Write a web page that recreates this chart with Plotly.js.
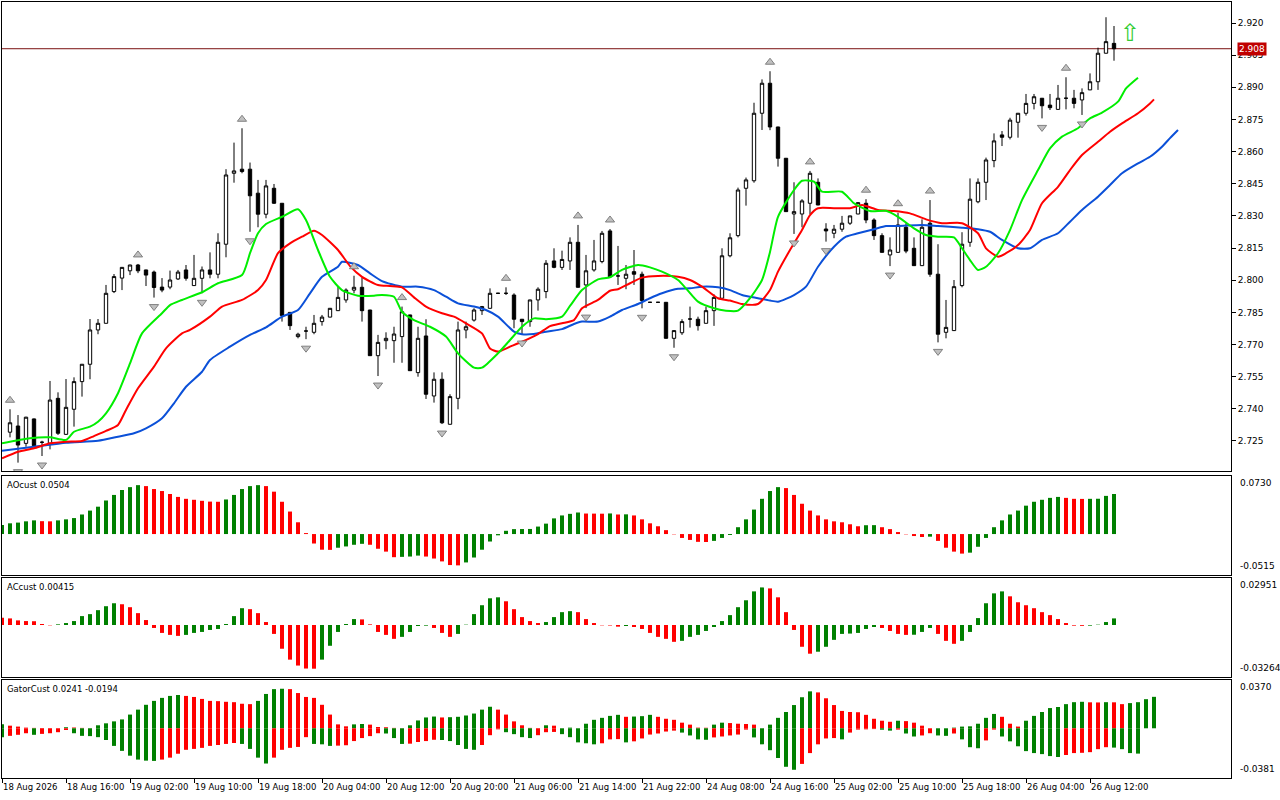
<!DOCTYPE html>
<html><head><meta charset="utf-8">
<script src="https://cdn.plot.ly/plotly-3.0.1.min.js"></script>
<style>html,body{margin:0;padding:0;background:#fff}#chart{width:1280px;height:800px}</style>
</head><body><div id="chart"></div>
<script>
// ---------- candles (H1 bars, index 0..138) ----------
const candleOpen = [2.7291,2.7320,2.7239,2.7353,2.7244,2.7239,2.7449,2.7281,2.7398,2.7527,2.7608,2.7768,2.7799,2.7947,2.8010,2.8044,2.8071,2.8048,2.8038,2.7968,
2.7968,2.8006,2.8048,2.7975,2.8009,2.8048,2.8028,2.8168,2.8499,2.8518,2.8518,2.8406,2.8308,2.8429,2.8359,2.7850,2.7737,2.7763,2.7757,2.7807,
2.7828,2.7858,2.7908,2.7954,2.7967,2.7861,2.7648,2.7718,2.7718,2.7737,2.7838,2.7569,2.7740,2.7460,2.7538,2.7328,2.7449,2.7768,2.7814,2.7858,
2.7869,2.7939,2.7939,2.7931,2.7818,2.7807,2.7908,2.7947,2.8090,2.8060,2.8090,2.8177,2.7978,2.8048,2.8087,2.8230,2.8020,2.8009,2.8040,2.8028,
2.7897,2.7897,2.7897,2.7729,2.7755,2.7819,2.7818,2.7799,2.7858,2.7916,2.8114,2.8208,2.8429,2.8464,2.8779,2.8919,2.8715,2.8569,2.8309,2.8309,
2.8359,2.8457,2.8239,2.8219,2.8238,2.8266,2.8309,2.8359,2.8281,2.8208,2.8118,2.8130,2.8247,2.8149,2.8068,2.8266,2.8028,2.7757,2.7765,2.7975,
2.8177,2.8366,2.8457,2.8558,2.8678,2.8667,2.8737,2.8779,2.8825,2.8849,2.8817,2.8797,2.8849,2.8849,2.8841,2.8888,2.8926,2.9059,2.9105];
const candleHigh = [2.7398,2.7371,2.7363,2.7355,2.7251,2.7530,2.7477,2.7539,2.7547,2.7609,2.7819,2.7819,2.7978,2.8029,2.8061,2.8072,2.8076,2.8049,2.8045,2.8010,
2.8045,2.8048,2.8071,2.8118,2.8064,2.8130,2.8219,2.8518,2.8642,2.8709,2.8549,2.8468,2.8468,2.8449,2.8359,2.7850,2.7755,2.7783,2.7838,2.7838,
2.7870,2.7973,2.7962,2.8021,2.8013,2.7862,2.7745,2.7757,2.7783,2.7877,2.7839,2.7783,2.7818,2.7570,2.7570,2.7468,2.7807,2.7807,2.7869,2.7880,
2.7962,2.7941,2.7967,2.7939,2.7819,2.7909,2.7967,2.8094,2.8149,2.8138,2.8200,2.8258,2.8118,2.8188,2.8230,2.8239,2.8160,2.8071,2.8141,2.8040,
2.7898,2.7898,2.7898,2.7766,2.7818,2.7877,2.7830,2.7877,2.7934,2.8149,2.8219,2.8432,2.8479,2.8828,2.8937,2.8975,2.8716,2.8570,2.8457,2.8378,
2.8510,2.8475,2.8266,2.8258,2.8300,2.8301,2.8363,2.8378,2.8289,2.8219,2.8200,2.8315,2.8266,2.8200,2.8284,2.8374,2.8168,2.7908,2.8001,2.8224,
2.8475,2.8475,2.8572,2.8685,2.8696,2.8758,2.8780,2.8869,2.8869,2.8850,2.8869,2.8911,2.8947,2.8888,2.8895,2.8965,2.9085,2.9227,2.9186];
const candleLow = [2.7267,2.7149,2.7223,2.7223,2.7180,2.7211,2.7278,2.7278,2.7317,2.7457,2.7538,2.7748,2.7799,2.7940,2.7954,2.8024,2.8033,2.7973,2.7919,2.7944,
2.7958,2.8001,2.7998,2.7975,2.7939,2.8009,2.8009,2.8107,2.8455,2.8499,2.8226,2.8247,2.8289,2.8356,2.7807,2.7768,2.7729,2.7725,2.7748,2.7788,
2.7827,2.7857,2.7895,2.7939,2.7807,2.7647,2.7553,2.7678,2.7615,2.7615,2.7577,2.7550,2.7446,2.7429,2.7329,2.7327,2.7398,2.7729,2.7807,2.7838,
2.7868,2.7937,2.7931,2.7776,2.7749,2.7783,2.7858,2.7916,2.8056,2.8048,2.8048,2.7966,2.7870,2.8040,2.8079,2.8015,2.7978,2.7958,2.7978,2.7869,
2.7896,2.7896,2.7728,2.7685,2.7745,2.7779,2.7765,2.7799,2.7787,2.7915,2.8107,2.8200,2.8348,2.8455,2.8701,2.8700,2.8530,2.8320,2.8216,2.8247,
2.8309,2.8350,2.8180,2.8196,2.8226,2.8258,2.8308,2.8266,2.8188,2.8130,2.8066,2.8130,2.8126,2.8068,2.8067,2.8016,2.7710,2.7729,2.7764,2.7967,
2.8156,2.8359,2.8374,2.8527,2.8626,2.8657,2.8665,2.8768,2.8797,2.8755,2.8794,2.8796,2.8797,2.8802,2.8771,2.8887,2.8888,2.9058,2.9024];
const candleClose = [2.7335,2.7231,2.7361,2.7228,2.7244,2.7441,2.7286,2.7407,2.7527,2.7608,2.7768,2.7799,2.7939,2.8017,2.8060,2.8071,2.8044,2.8024,2.7966,2.7954,
2.8001,2.8038,2.8009,2.8009,2.8048,2.8028,2.8177,2.8491,2.8510,2.8507,2.8394,2.8308,2.8440,2.8359,2.7835,2.7788,2.7748,2.7763,2.7799,2.7828,
2.7869,2.7920,2.7954,2.7967,2.7858,2.7648,2.7710,2.7729,2.7749,2.7853,2.7578,2.7729,2.7468,2.7538,2.7335,2.7457,2.7768,2.7783,2.7861,2.7877,
2.7939,2.7939,2.7939,2.7818,2.7807,2.7908,2.7958,2.8079,2.8060,2.8097,2.8177,2.7967,2.8044,2.8090,2.8219,2.8016,2.8020,2.8028,2.8028,2.7905,
2.7897,2.7897,2.7729,2.7765,2.7807,2.7819,2.7788,2.7858,2.7920,2.8114,2.8198,2.8421,2.8468,2.8779,2.8919,2.8715,2.8569,2.8320,2.8320,2.8370,
2.8499,2.8351,2.8230,2.8238,2.8266,2.8300,2.8362,2.8281,2.8208,2.8130,2.8141,2.8258,2.8136,2.8068,2.8247,2.8028,2.7748,2.7780,2.7970,2.8168,
2.8378,2.8457,2.8561,2.8650,2.8667,2.8747,2.8779,2.8825,2.8856,2.8814,2.8805,2.8849,2.8849,2.8825,2.8875,2.8926,2.9059,2.9113,2.9080];

// ---------- time axis labels ----------
const timeTickIdx = [-1,7,15,23,31,39,47,55,63,71,79,87,95,103,111,119,127,135];
const timeTickText = ["18 Aug 2026","18 Aug 16:00","19 Aug 02:00","19 Aug 10:00","19 Aug 18:00","20 Aug 04:00","20 Aug 12:00","20 Aug 20:00","21 Aug 06:00","21 Aug 14:00","21 Aug 22:00","24 Aug 08:00","24 Aug 16:00","25 Aug 02:00","25 Aug 10:00","25 Aug 18:00","26 Aug 04:00","26 Aug 12:00"];
const priceTicks = [2.920,2.905,2.890,2.875,2.860,2.845,2.830,2.815,2.800,2.785,2.770,2.755,2.740,2.725];

// ---------- Alligator lines (read samples: bar index, price) ----------
const lipsIdx = [-1,2.5,5,7,8,10,11,12,13.5,15,16.5,19,20,21.5,24,26,29,30,31,32,34,36,37,38.5,40,41.5,43.5,45.5,46.5,48,49,50.5,52.5,54.5,56,58,59,61,62.5,64,65.5,67,69,70,71.5,73.5,75,76.5,78.5,80,81.5,83.5,84.5,86,88,89.5,91,92.5,94,95,96,98,99,100.5,101.5,104,105.5,107.5,109.5,111,113,114.5,116,118,119,120,121,122,123.5,125,126.5,128.5,130,131.5,133.5,135,136.5,138.5,139.5,141];
const lipsVal = [2.7239,2.7263,2.7267,2.7255,2.7293,2.7317,2.7340,2.7379,2.7473,2.7612,2.7752,2.7846,2.7884,2.7908,2.7944,2.7986,2.8024,2.8126,2.8219,2.8262,2.8296,2.8331,2.8281,2.8141,2.8016,2.7954,2.7928,2.7928,2.7931,2.7923,2.7853,2.7814,2.7783,2.7737,2.7659,2.7592,2.7592,2.7659,2.7721,2.7783,2.7822,2.7818,2.7830,2.7880,2.7954,2.8004,2.8014,2.8048,2.8071,2.8060,2.8040,2.8001,2.7962,2.7900,2.7869,2.7858,2.7858,2.7916,2.8001,2.8132,2.8296,2.8421,2.8464,2.8460,2.8413,2.8413,2.8359,2.8323,2.8324,2.8296,2.8242,2.8211,2.8203,2.8200,2.8149,2.8094,2.8048,2.8063,2.8126,2.8234,2.8374,2.8514,2.8615,2.8670,2.8709,2.8755,2.8782,2.8833,2.8895,2.8945];
const teethIdx = [-1,1,3,5,7,9,10.5,12,13.5,14.5,16,18,19.5,21.5,22.5,25,26.5,29,31,32,33.5,35,36.5,38,39,41,42.5,44,46,47.5,49,50.5,52,54,55.5,57,59,60,61,62.5,64,66,67.5,69,70.5,71.5,73.5,75,76,77.5,79,81,83.5,85,86.5,88.5,90,91.5,93.5,95,96,97.5,99,100,101,103,105,106.5,108.5,110.5,112.5,114.5,116.5,119,121,122,123.5,124.5,126,127.5,129,131,132.5,134,136,137.5,139,141,142.5,143];
const teethVal = [2.7169,2.7200,2.7216,2.7239,2.7247,2.7250,2.7273,2.7297,2.7325,2.7395,2.7496,2.7597,2.7682,2.7752,2.7768,2.7830,2.7877,2.7908,2.7954,2.8001,2.8126,2.8172,2.8203,2.8231,2.8211,2.8141,2.8066,2.8016,2.7978,2.7973,2.7967,2.7920,2.7877,2.7846,2.7830,2.7799,2.7752,2.7682,2.7667,2.7690,2.7713,2.7749,2.7786,2.7799,2.7814,2.7869,2.7908,2.7951,2.7958,2.7986,2.8012,2.8020,2.8016,2.8001,2.7970,2.7916,2.7905,2.7889,2.7889,2.7954,2.8040,2.8141,2.8234,2.8304,2.8336,2.8336,2.8336,2.8351,2.8328,2.8323,2.8312,2.8284,2.8266,2.8266,2.8219,2.8149,2.8110,2.8126,2.8164,2.8234,2.8359,2.8436,2.8514,2.8584,2.8646,2.8693,2.8732,2.8779,2.8825,2.8844];
const jawIdx = [-1,3,7,11,13.5,15.5,17,19,20.5,22,24,25,27.5,30,32,34,36,37.5,39,41,41.5,43.5,45,46.5,49,51,53,54.5,56,58,59.5,61,63,64,65.5,67,69,70.5,71.5,73.5,75,76.5,78.5,80,81.5,83.5,85,86.5,88.5,90,91.5,93.5,95,96,98,99.5,101,103,104.5,106,108,109.5,111,114,116,119,121,122.5,124,126,127.5,129,131,132.5,134,136,137.5,139,141,142.5,144,145,146];
const jawVal = [2.7205,2.7223,2.7242,2.7251,2.7270,2.7286,2.7309,2.7356,2.7426,2.7503,2.7573,2.7628,2.7690,2.7745,2.7780,2.7830,2.7861,2.7939,2.8016,2.8063,2.8086,2.8071,2.8032,2.7996,2.7970,2.7970,2.7954,2.7923,2.7892,2.7877,2.7861,2.7830,2.7760,2.7748,2.7749,2.7760,2.7772,2.7796,2.7807,2.7807,2.7830,2.7861,2.7889,2.7916,2.7939,2.7960,2.7962,2.7970,2.7967,2.7954,2.7931,2.7916,2.7905,2.7900,2.7931,2.7970,2.8063,2.8156,2.8203,2.8219,2.8238,2.8253,2.8253,2.8258,2.8253,2.8245,2.8238,2.8226,2.8188,2.8149,2.8149,2.8188,2.8219,2.8273,2.8328,2.8390,2.8444,2.8499,2.8545,2.8576,2.8623,2.8663,2.8701];

// ---------- fractals & signal ----------
const fractalUpIdx = [0,16,29,43,49,62,71,75,95,100,107,111,115,132];
const fractalDownIdx = [1,4,18,24,30,37,46,54,64,72,79,83,98,102,110,116,129,134];
const signalIdx = [140];
const signalPrice = [2.9153];

// ---------- AO (bars from index -1) ----------
const aoValues = [0.0115,0.0135,0.0144,0.0160,0.0172,0.0162,0.0160,0.0172,0.0185,0.0201,0.0246,0.0295,0.0344,0.0422,0.0492,0.0554,0.0590,0.0615,0.0603,0.0566,
0.0541,0.0504,0.0467,0.0443,0.0431,0.0418,0.0408,0.0406,0.0435,0.0492,0.0566,0.0603,0.0615,0.0603,0.0533,0.0406,0.0283,0.0148,0.0012,-0.0119,
-0.0197,-0.0199,-0.0172,-0.0156,-0.0135,-0.0123,-0.0135,-0.0185,-0.0221,-0.0291,-0.0287,-0.0283,-0.0271,-0.0283,-0.0308,-0.0344,-0.0390,-0.0394,-0.0357,-0.0295,
-0.0197,-0.0094,-0.0016,0.0041,0.0062,0.0063,0.0064,0.0094,0.0131,0.0197,0.0234,0.0254,0.0271,0.0258,0.0257,0.0256,0.0259,0.0246,0.0248,0.0234,
0.0185,0.0135,0.0098,0.0049,-0.0004,-0.0049,-0.0074,-0.0098,-0.0100,-0.0086,-0.0049,-0.0012,0.0086,0.0185,0.0308,0.0443,0.0541,0.0590,0.0578,0.0492,
0.0381,0.0295,0.0234,0.0185,0.0160,0.0148,0.0123,0.0098,0.0111,0.0112,0.0086,0.0062,0.0025,-0.0004,-0.0025,-0.0037,-0.0033,-0.0086,-0.0172,-0.0221,
-0.0246,-0.0234,-0.0160,-0.0049,0.0086,0.0172,0.0246,0.0295,0.0357,0.0406,0.0431,0.0455,0.0467,0.0455,0.0443,0.0442,0.0443,0.0444,0.0480,0.0504];
const aoScale = [0.0730, -0.0515];

// ---------- AC (bars from index -1) ----------
const acValues = [0.00455,0.00414,0.00290,0.00248,0.00238,0.00062,-0.00021,0.00041,0.00124,0.00248,0.00559,0.00683,0.00932,0.01180,0.01366,0.01304,0.01118,0.00745,0.00311,-0.00186,
-0.00497,-0.00621,-0.00683,-0.00621,-0.00497,-0.00435,-0.00311,-0.00248,0.00062,0.00559,0.01056,0.00994,0.00745,0.00186,-0.00559,-0.01490,-0.02174,-0.02546,-0.02732,-0.02743,
-0.02174,-0.01304,-0.00435,0.00062,0.00373,0.00352,0.00041,-0.00435,-0.00621,-0.00869,-0.00745,-0.00435,-0.00062,-0.00041,-0.00186,-0.00497,-0.00745,-0.00559,0.00021,0.00683,
0.01242,0.01677,0.01739,0.01490,0.00994,0.00497,0.00248,0.00124,0.00186,0.00497,0.00807,0.00869,0.00807,0.00373,0.00124,-0.00021,-0.00031,-0.00104,-0.00062,-0.00124,
-0.00248,-0.00497,-0.00745,-0.00869,-0.01056,-0.00994,-0.00745,-0.00621,-0.00373,-0.00124,0.00248,0.00621,0.01118,0.01553,0.02111,0.02360,0.02298,0.01739,0.00807,-0.00311,
-0.01366,-0.01801,-0.01677,-0.01366,-0.00932,-0.00559,-0.00538,-0.00497,-0.00248,-0.00124,-0.00186,-0.00373,-0.00559,-0.00621,-0.00611,-0.00435,-0.00186,-0.00559,-0.00994,-0.01180,
-0.00994,-0.00435,0.00435,0.01366,0.01987,0.02111,0.01801,0.01428,0.01242,0.01056,0.00807,0.00621,0.00373,0.00124,-0.00041,-0.00052,-0.00041,0.00021,0.00186,0.00415];
const acScale = [0.02951, -0.03264];

// ---------- Gator (bars from index -1) ----------
const gatorUpper = [0.0030,0.0020,0.0013,0.0005,0.0003,0.0002,0.0001,0.00005,0.0008,0.0006,0.0003,0.0001,0.0023,0.0038,0.0053,0.0068,0.0105,0.0143,0.0180,0.0210,
0.0233,0.0248,0.0255,0.0248,0.0240,0.0225,0.0210,0.0208,0.0203,0.0200,0.0188,0.0185,0.0210,0.0263,0.0300,0.0303,0.0300,0.0270,0.0240,0.0233,
0.0180,0.0105,0.0030,0.0015,0.0030,0.0033,0.0028,0.0010,0.0008,0.0003,0.0001,0.0023,0.0060,0.0083,0.0090,0.0083,0.0085,0.0088,0.0098,0.0113,
0.0143,0.0165,0.0143,0.0105,0.0053,0.0023,0.0003,0.0001,0.0023,0.0020,0,0.0005,0,0.0035,0.0065,0.0080,0.0095,0.0103,0.0088,0.0090,
0.0093,0.0103,0.0088,0.0073,0.0065,0.0043,0.0028,0.0005,0.0004,0.0028,0.0043,0.0040,0.0035,0.0033,0.0028,0,0.0028,0.0080,0.0125,0.0178,
0.0238,0.0283,0.0275,0.0230,0.0178,0.0133,0.0125,0.0123,0.0103,0.0073,0.0058,0.0050,0.0058,0.0055,0.0043,0.0020,0,0,0,0.0005,
0.0013,0.0015,0.0035,0.0080,0.0110,0.0088,0.0035,0.0013,0.0058,0.0095,0.0125,0.0155,0.0163,0.0185,0.0200,0.0203,0.0199,0.0198,0.0200,0.0199,
0.0185,0.0193,0.0200,0.0223,0.0241];
const gatorLower = [-0.0068,-0.0058,-0.0050,-0.0038,-0.0050,-0.0043,-0.0038,-0.0030,-0.0013,-0.0038,-0.0058,-0.0060,-0.0068,-0.0090,-0.0135,-0.0173,-0.0210,-0.0240,-0.0248,-0.0250,
-0.0240,-0.0225,-0.0195,-0.0165,-0.0158,-0.0150,-0.0135,-0.0128,-0.0120,-0.0113,-0.0120,-0.0158,-0.0225,-0.0270,-0.0225,-0.0165,-0.0150,-0.0143,-0.0068,-0.0120,
-0.0123,-0.0135,-0.0133,-0.0130,-0.0098,-0.0075,-0.0060,-0.0038,-0.0040,-0.0075,-0.0120,-0.0118,-0.0105,-0.0098,-0.0088,-0.0090,-0.0098,-0.0128,-0.0158,-0.0165,
-0.0128,-0.0053,-0.0008,-0.0030,-0.0045,-0.0068,-0.0075,-0.0053,-0.0030,-0.0028,-0.0045,-0.0068,-0.0108,-0.0115,-0.0123,-0.0115,-0.0085,-0.0083,-0.0108,-0.0100,
-0.0078,-0.0048,-0.0040,-0.0025,-0.0018,-0.0033,-0.0055,-0.0085,-0.0088,-0.0070,-0.0063,-0.0055,-0.0048,-0.0010,-0.0070,-0.0123,-0.0168,-0.0228,-0.0295,-0.0318,
-0.0273,-0.0190,-0.0123,-0.0078,-0.0075,-0.0085,-0.0033,-0.0010,-0.0008,-0.0006,-0.0011,-0.0018,-0.0010,-0.0040,-0.0063,-0.0055,-0.0038,-0.0055,-0.0058,-0.0040,
-0.0085,-0.0145,-0.0153,-0.0093,-0.0010,-0.0063,-0.0100,-0.0138,-0.0175,-0.0190,-0.0198,-0.0213,-0.0220,-0.0205,-0.0190,-0.0188,-0.0183,-0.0160,-0.0145,-0.0148,
-0.0160,-0.0190,-0.0194];
const gatorScale = [0.0370, -0.0381];

// ---------- styling ----------
const GREEN = '#008000', RED = '#ff0000';
const FONT = 'DejaVu Sans, Verdana, sans-serif';
const N = candleOpen.length;
const candleIdx = candleOpen.map((_, i) => i);
const fromMinus1 = arr => arr.map((_, k) => k - 1);

function trendColors(vals, useAbs, firstColor) {
  return vals.map((v, k) => {
    if (k === 0) return firstColor;
    const a = useAbs ? Math.abs(v) : v;
    const b = useAbs ? Math.abs(vals[k - 1]) : vals[k - 1];
    return a > b ? GREEN : RED;
  });
}

const xRange = [-1, 152.625];
const mainRange = [2.7110, 2.9298];

const traces = [];
traces.push({
  type: 'candlestick', x: candleIdx, open: candleOpen, high: candleHigh, low: candleLow, close: candleClose,
  xaxis: 'x', yaxis: 'y', whiskerwidth: 0, line: {width: 1},
  increasing: {line: {color: '#000000', width: 1}, fillcolor: '#ffffff'},
  decreasing: {line: {color: '#000000', width: 1}, fillcolor: '#000000'},
  hoverinfo: 'skip'
});
traces.push({type: 'scatter', mode: 'lines', x: jawIdx, y: jawVal, xaxis: 'x', yaxis: 'y',
  line: {color: '#0b50d8', width: 2, shape: 'spline', smoothing: 0.6}, hoverinfo: 'skip'});
traces.push({type: 'scatter', mode: 'lines', x: teethIdx, y: teethVal, xaxis: 'x', yaxis: 'y',
  line: {color: '#ff0000', width: 2, shape: 'spline', smoothing: 0.6}, hoverinfo: 'skip'});
traces.push({type: 'scatter', mode: 'lines', x: lipsIdx, y: lipsVal, xaxis: 'x', yaxis: 'y',
  line: {color: '#00ee00', width: 2, shape: 'spline', smoothing: 0.6}, hoverinfo: 'skip'});
traces.push({type: 'scatter', mode: 'markers', x: fractalUpIdx, y: fractalUpIdx.map(i => candleHigh[i] + 0.0042),
  xaxis: 'x', yaxis: 'y', marker: {symbol: 'triangle-up', size: 8, color: '#c0c0c0', line: {color: '#808080', width: 1}}, hoverinfo: 'skip'});
traces.push({type: 'scatter', mode: 'markers', x: fractalDownIdx, y: fractalDownIdx.map(i => candleLow[i] - 0.0042),
  xaxis: 'x', yaxis: 'y', marker: {symbol: 'triangle-down', size: 8, color: '#c0c0c0', line: {color: '#808080', width: 1}}, hoverinfo: 'skip'});

traces.push({type: 'bar', x: fromMinus1(aoValues), y: aoValues, width: 0.5, xaxis: 'x2', yaxis: 'y2',
  marker: {color: trendColors(aoValues, false, GREEN), line: {width: 0}}, hoverinfo: 'skip'});
traces.push({type: 'bar', x: fromMinus1(acValues), y: acValues, width: 0.5, xaxis: 'x3', yaxis: 'y3',
  marker: {color: trendColors(acValues, false, RED), line: {width: 0}}, hoverinfo: 'skip'});
traces.push({type: 'bar', x: fromMinus1(gatorUpper), y: gatorUpper, width: 0.5, xaxis: 'x4', yaxis: 'y4',
  marker: {color: trendColors(gatorUpper, true, GREEN), line: {width: 0}}, hoverinfo: 'skip'});
traces.push({type: 'bar', x: fromMinus1(gatorLower), y: gatorLower, width: 0.5, xaxis: 'x4', yaxis: 'y4',
  marker: {color: trendColors(gatorLower, true, GREEN), line: {width: 0}}, hoverinfo: 'skip'});

const boxAxis = {showline: true, mirror: true, linecolor: '#000000', linewidth: 1, showgrid: false, zeroline: false};
const tickFont = {family: FONT, size: 9, color: '#000000'};

const H = 776; // plot height (800 - 2 - 22)
const dom = (top, bottom) => [(778 - bottom) / H, (778 - top) / H];

const lastClose = candleClose[N - 1];
const annotations = [];
function panelLabel(text, yref) {
  annotations.push({xref: 'paper', x: 0, xanchor: 'left', xshift: 3, yref: yref, y: 1, yanchor: 'top', yshift: -2,
    text: text, showarrow: false, font: {family: FONT, size: 8.5, color: '#000000'}});
}
function decimalsOf(v) { return String(v).split('.')[1].length >= 5 ? 5 : 4; }
function scaleLabels(vals, yref) {
  annotations.push({xref: 'paper', x: 1, xanchor: 'left', xshift: 7, yref: yref, y: 1, yanchor: 'top', yshift: 0,
    text: vals[0].toFixed(decimalsOf(vals[0])), showarrow: false, font: tickFont});
  annotations.push({xref: 'paper', x: 1, xanchor: 'left', xshift: 7, yref: yref, y: 0, yanchor: 'bottom', yshift: 2,
    text: vals[1].toFixed(decimalsOf(vals[1])), showarrow: false, font: tickFont});
}
panelLabel('AOcust ' + aoValues[aoValues.length - 1].toFixed(4), 'y2 domain');
panelLabel('ACcust ' + acValues[acValues.length - 1].toFixed(5), 'y3 domain');
panelLabel('GatorCust ' + gatorUpper[gatorUpper.length - 1].toFixed(4) + ' ' + gatorLower[gatorLower.length - 1].toFixed(4), 'y4 domain');
scaleLabels(aoScale, 'y2 domain');
scaleLabels(acScale, 'y3 domain');
scaleLabels(gatorScale, 'y4 domain');
annotations.push({xref: 'paper', x: 1, xanchor: 'left', xshift: 6, yref: 'y', y: lastClose, yanchor: 'middle',
  text: lastClose.toFixed(3), showarrow: false, bgcolor: '#c00000', borderpad: 1,
  font: {family: FONT, size: 9, color: '#ffffff'}});
annotations.push({xref: 'x', x: signalIdx[0], yref: 'y', y: signalPrice[0], text: '\u21E7', showarrow: false,
  font: {family: FONT, size: 24, color: '#33cc33'}});

const layout = {
  width: 1280, height: 800,
  margin: {l: 2, r: 49, t: 2, b: 22, pad: 0},
  paper_bgcolor: '#ffffff', plot_bgcolor: '#ffffff',
  showlegend: false, barmode: 'overlay', boxgap: 0.4,
  font: {family: FONT, size: 9, color: '#000000'},
  xaxis: Object.assign({}, boxAxis, {domain: [0, 1], anchor: 'y', range: xRange, showticklabels: false, ticks: '', rangeslider: {visible: false}}),
  xaxis2: Object.assign({}, boxAxis, {domain: [0, 1], anchor: 'y2', matches: 'x', range: xRange, showticklabels: false, ticks: ''}),
  xaxis3: Object.assign({}, boxAxis, {domain: [0, 1], anchor: 'y3', matches: 'x', range: xRange, showticklabels: false, ticks: ''}),
  xaxis4: Object.assign({}, boxAxis, {domain: [0, 1], anchor: 'y4', matches: 'x', range: xRange,
    tickmode: 'array', tickvals: timeTickIdx, ticktext: timeTickText, ticks: 'outside', ticklen: 4, tickcolor: '#000000',
    tickangle: 0, ticklabelposition: 'outside right', ticklabelstandoff: 1,
    tickfont: {family: FONT, size: 8.5, color: '#000000'}}),
  yaxis: Object.assign({}, boxAxis, {domain: dom(2, 471), anchor: 'x', side: 'right', range: mainRange,
    tickmode: 'array', tickvals: priceTicks, ticktext: priceTicks.map(v => v.toFixed(3)),
    ticks: 'outside', ticklen: 4, tickcolor: '#000000', tickfont: tickFont}),
  yaxis2: Object.assign({}, boxAxis, {domain: dom(476, 575), anchor: 'x2', side: 'right', range: [aoScale[1], aoScale[0]], showticklabels: false, ticks: ''}),
  yaxis3: Object.assign({}, boxAxis, {domain: dom(578, 677), anchor: 'x3', side: 'right', range: [acScale[1], acScale[0]], showticklabels: false, ticks: ''}),
  yaxis4: Object.assign({}, boxAxis, {domain: dom(680, 778), anchor: 'x4', side: 'right', range: [gatorScale[1], gatorScale[0]], showticklabels: false, ticks: ''}),
  shapes: [{type: 'line', xref: 'x domain', x0: 0, x1: 1, yref: 'y', y0: lastClose, y1: lastClose,
    line: {color: '#7a1010', width: 1}, layer: 'below'}],
  annotations: annotations
};

Plotly.newPlot('chart', traces, layout, {staticPlot: true, displayModeBar: false});
</script></body></html>
